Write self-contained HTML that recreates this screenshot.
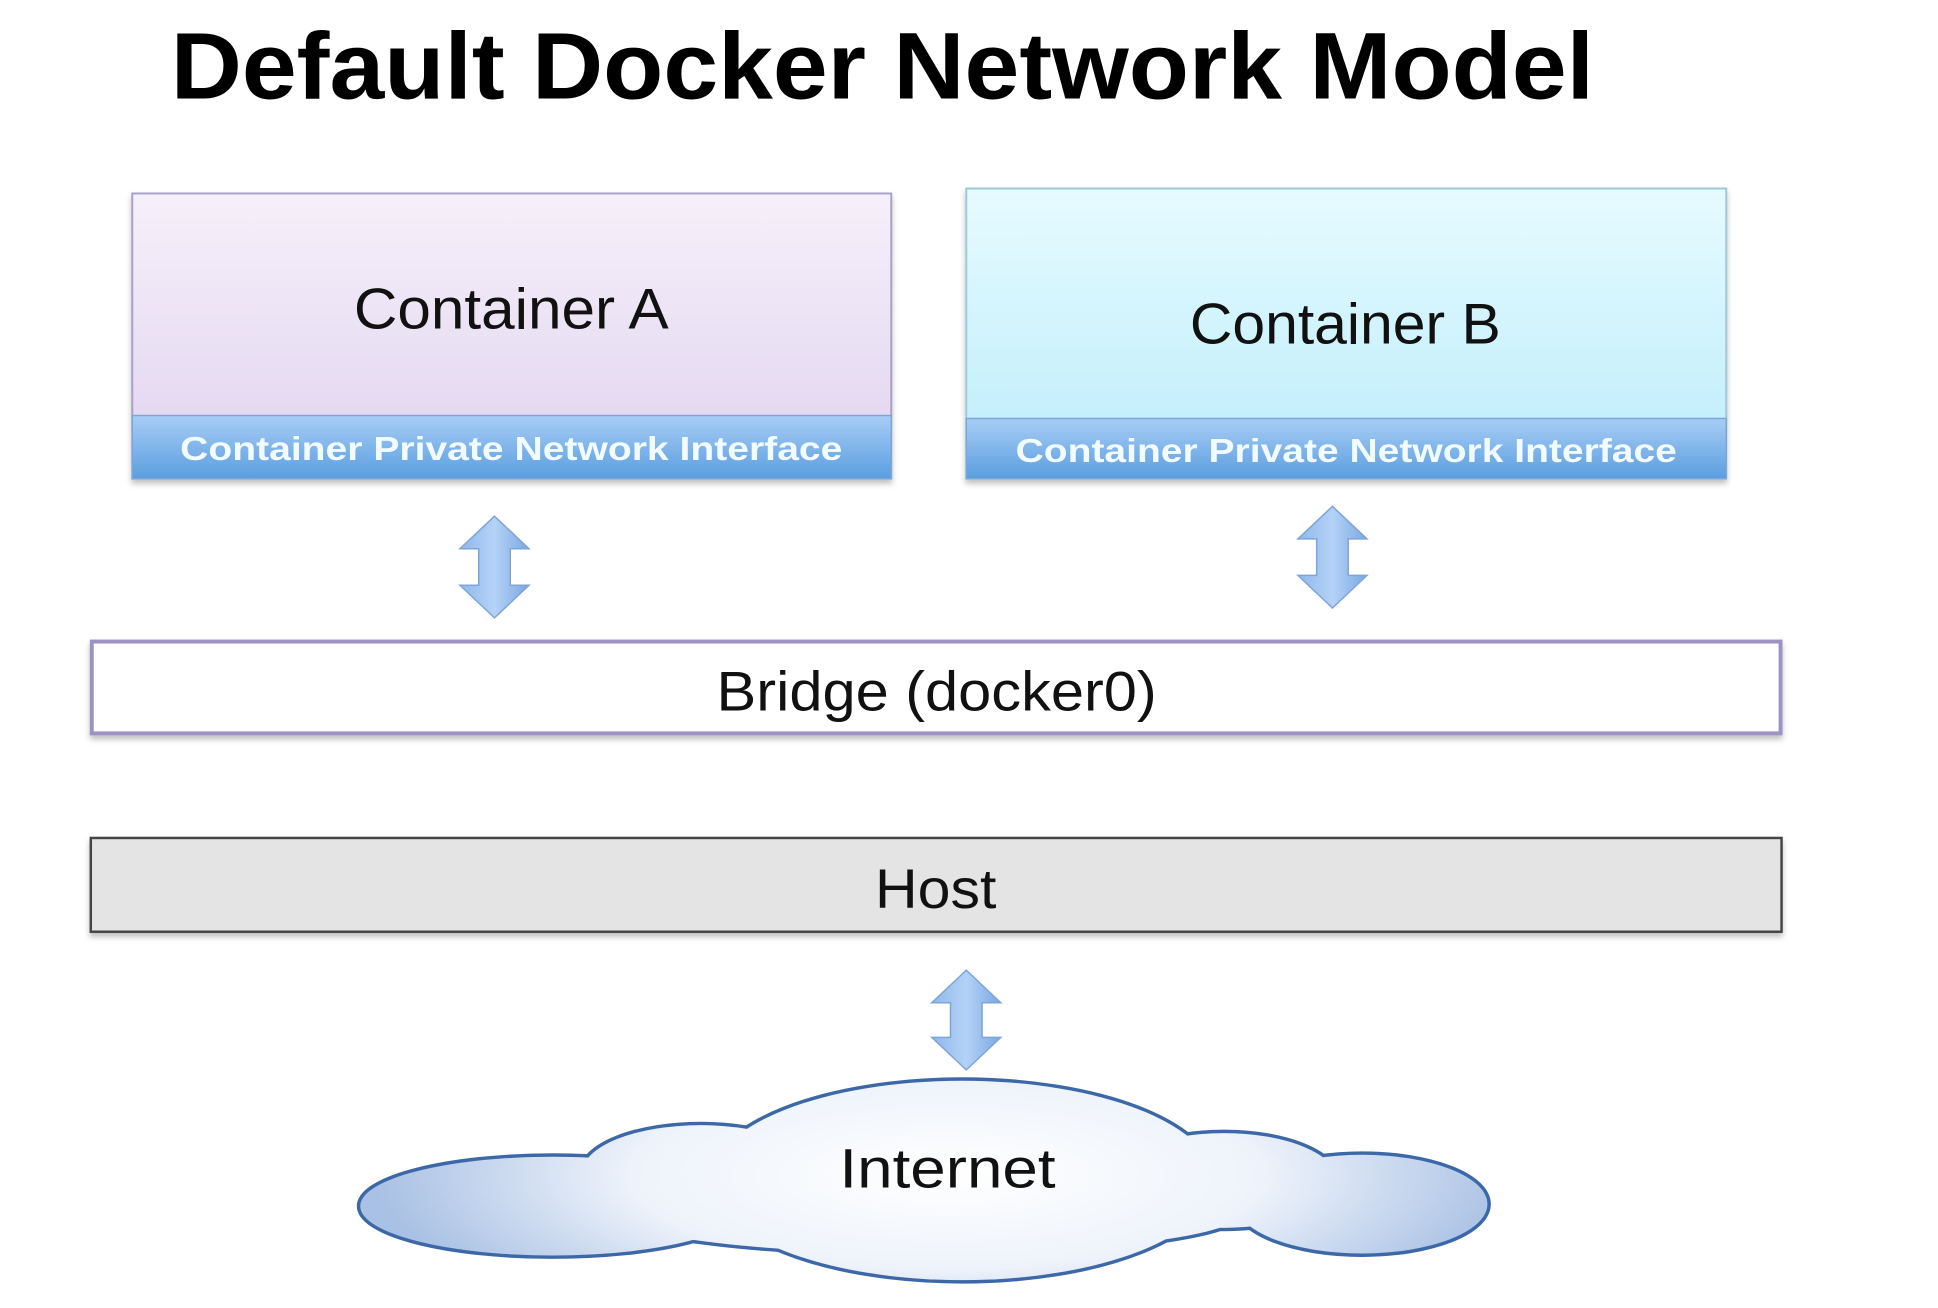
<!DOCTYPE html>
<html><head><meta charset="utf-8"><style>html,body{margin:0;padding:0;background:#fff}svg{display:block}</style></head>
<body>
<svg width="1938" height="1308" viewBox="0 0 1938 1308" xmlns="http://www.w3.org/2000/svg" font-family="'Liberation Sans', sans-serif">
<defs>
<linearGradient id="ga" x1="0" y1="0" x2="0" y2="1"><stop offset="0" stop-color="#f6f0fa"/><stop offset="1" stop-color="#e0d3ef"/></linearGradient>
<linearGradient id="gb" x1="0" y1="0" x2="0" y2="1"><stop offset="0" stop-color="#e6fbff"/><stop offset="1" stop-color="#bcecfb"/></linearGradient>
<linearGradient id="gband" x1="0" y1="0" x2="0" y2="1"><stop offset="0" stop-color="#a8cdf5"/><stop offset="1" stop-color="#5a9ee0"/></linearGradient>
<linearGradient id="garr" x1="0" y1="0" x2="1" y2="0"><stop offset="0" stop-color="#8fb8ec"/><stop offset="0.5" stop-color="#b4d2f6"/><stop offset="1" stop-color="#7aa8e2"/></linearGradient>
<radialGradient id="gc" gradientUnits="userSpaceOnUse" cx="960" cy="1190" r="580" gradientTransform="translate(960 1190) scale(1 0.3) translate(-960 -1190)"><stop offset="0" stop-color="#ffffff"/><stop offset="0.55" stop-color="#eef3fb"/><stop offset="1" stop-color="#a9c1e4"/></radialGradient>
<filter id="sh" x="-5%" y="-5%" width="110%" height="120%"><feDropShadow dx="0" dy="4" stdDeviation="3" flood-color="#000" flood-opacity="0.25"/></filter>
</defs>
<g transform="scale(0.987)">
<text x="173" y="100" font-size="96" font-weight="bold" fill="#000" textLength="1442" lengthAdjust="spacingAndGlyphs">Default Docker Network Model</text>

<g filter="url(#sh)">
<rect x="134" y="196" width="769" height="289" fill="url(#ga)" stroke="#a7a0c8" stroke-width="2"/>
<rect x="134" y="421" width="769" height="64" fill="url(#gband)" stroke="#7aa6d8" stroke-width="1.5"/>
</g>
<text x="518" y="333" font-size="58" text-anchor="middle" fill="#111" textLength="319" lengthAdjust="spacingAndGlyphs">Container A</text>
<text x="518" y="466" font-size="34" font-weight="bold" text-anchor="middle" fill="#f2fbff" textLength="671" lengthAdjust="spacingAndGlyphs">Container Private Network Interface</text>

<g filter="url(#sh)">
<rect x="979" y="191" width="770" height="294" fill="url(#gb)" stroke="#9fc8da" stroke-width="2"/>
<rect x="979" y="424" width="770" height="61" fill="url(#gband)" stroke="#7aa6d8" stroke-width="1.5"/>
</g>
<text x="1363" y="348" font-size="58" text-anchor="middle" fill="#111" textLength="315" lengthAdjust="spacingAndGlyphs">Container B</text>
<text x="1364" y="468" font-size="34" font-weight="bold" text-anchor="middle" fill="#f2fbff" textLength="670" lengthAdjust="spacingAndGlyphs">Container Private Network Interface</text>

<g fill="url(#garr)" stroke="#7ea5d6" stroke-width="1.5">
<path d="M501 523 L536 556 L517 556 L517 593 L536 593 L501 626 L466 593 L485 593 L485 556 L466 556 Z"/>
<path d="M1350 513 L1385 546 L1366 546 L1366 583 L1385 583 L1350 616 L1315 583 L1334 583 L1334 546 L1315 546 Z"/>
<path d="M979 983 L1014 1016 L995 1016 L995 1051 L1014 1051 L979 1084 L944 1051 L963 1051 L963 1016 L944 1016 Z"/>
</g>

<rect x="93" y="650" width="1711" height="93" fill="#fff" stroke="#9d92c4" stroke-width="4" filter="url(#sh)"/>
<text x="949" y="720" font-size="56" text-anchor="middle" fill="#111" textLength="446" lengthAdjust="spacingAndGlyphs">Bridge (docker0)</text>

<rect x="92" y="849" width="1713" height="95" fill="#e4e4e4" stroke="#444" stroke-width="2.5" filter="url(#sh)"/>
<text x="948" y="920" font-size="56" text-anchor="middle" fill="#111" textLength="123" lengthAdjust="spacingAndGlyphs">Host</text>

<g stroke="#3d68a8" stroke-width="7">
<ellipse cx="560" cy="1222" rx="195" ry="50"/>
<ellipse cx="710" cy="1188" rx="120" ry="48"/>
<ellipse cx="975" cy="1196" rx="255" ry="101"/>
<ellipse cx="1240" cy="1196" rx="115" ry="48"/>
<ellipse cx="1380" cy="1220" rx="127" ry="50"/>
<ellipse cx="940" cy="1228" rx="320" ry="42"/>
</g>
<g fill="url(#gc)">
<ellipse cx="560" cy="1222" rx="195" ry="50"/>
<ellipse cx="710" cy="1188" rx="120" ry="48"/>
<ellipse cx="975" cy="1196" rx="255" ry="101"/>
<ellipse cx="1240" cy="1196" rx="115" ry="48"/>
<ellipse cx="1380" cy="1220" rx="127" ry="50"/>
<ellipse cx="940" cy="1228" rx="320" ry="42"/>
</g>
<text x="960" y="1203" font-size="56" text-anchor="middle" fill="#111" textLength="219" lengthAdjust="spacingAndGlyphs">Internet</text>
</g>
</svg>
</body></html>
